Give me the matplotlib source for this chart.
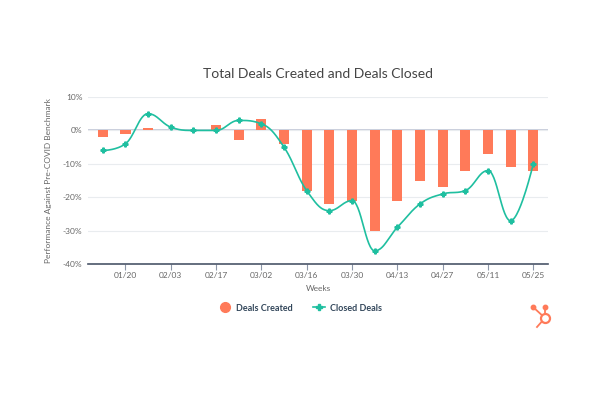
import numpy as np
import matplotlib
matplotlib.use("Agg")
import matplotlib.pyplot as plt
from matplotlib.lines import Line2D

weeks = ["01/13", "01/20", "01/27", "02/03", "02/10", "02/17", "02/24", "03/02",
         "03/09", "03/16", "03/23", "03/30", "04/06", "04/13", "04/20", "04/27",
         "05/04", "05/11", "05/18", "05/25"]
deals_created = [-2, -1, 0.8, 0, 0, 1.5, -3, 3.5, -4, -18, -22, -21, -30, -21,
                 -15, -17, -12, -7, -11, -12]
closed_deals = [-6, -4, 5, 1, 0, 0, 3, 2, -5, -18, -24, -21, -36, -29, -22,
                -19, -18, -12, -27, -10]

ORANGE = "#ff7a59"
TEAL = "#1fbfa0"
GREY = "#666666"


def spline_path(xs, ys, smoothing=1.5, steps=30):
    # highcharts-like bezier spline between points
    n = len(xs)
    left = [None] * n
    right = [None] * n
    for i in range(n):
        px, py = xs[i], ys[i]
        if i == 0 or i == n - 1:
            left[i] = (px, py)
            right[i] = (px, py)
            continue
        lx, ly = xs[i - 1], ys[i - 1]
        nx, ny = xs[i + 1], ys[i + 1]
        d = smoothing + 1
        lcx = (smoothing * px + lx) / d
        lcy = (smoothing * py + ly) / d
        rcx = (smoothing * px + nx) / d
        rcy = (smoothing * py + ny) / d
        if rcx != lcx:
            corr = (rcy - lcy) * (rcx - px) / (rcx - lcx) + py - rcy
            lcy += corr
            rcy += corr
        if lcy > ly and lcy > py:
            lcy = max(ly, py)
            rcy = 2 * py - lcy
        elif lcy < ly and lcy < py:
            lcy = min(ly, py)
            rcy = 2 * py - lcy
        if rcy > ny and rcy > py:
            rcy = max(ny, py)
            lcy = 2 * py - rcy
        elif rcy < ny and rcy < py:
            rcy = min(ny, py)
            lcy = 2 * py - rcy
        left[i] = (lcx, lcy)
        right[i] = (rcx, rcy)
    out_x, out_y = [xs[0]], [ys[0]]
    t = np.linspace(0, 1, steps)[1:]
    for i in range(1, n):
        p0 = np.array([xs[i - 1], ys[i - 1]])
        p1 = np.array(right[i - 1])
        p2 = np.array(left[i])
        p3 = np.array([xs[i], ys[i]])
        for tt in t:
            b = ((1 - tt) ** 3) * p0 + 3 * ((1 - tt) ** 2) * tt * p1 \
                + 3 * (1 - tt) * tt ** 2 * p2 + tt ** 3 * p3
            out_x.append(b[0])
            out_y.append(b[1])
    return out_x, out_y


plt.rcParams["font.family"] = ["Lato", "DejaVu Sans"]

fig = plt.figure(figsize=(5.95, 3.96), dpi=100)
ax = fig.add_axes([0.148, 0.333, 0.773, 0.422])

x = np.arange(len(weeks))
ax.bar(x, deals_created, width=0.45, color=ORANGE, zorder=2)

sx, sy = spline_path(list(x), closed_deals)
ax.plot(sx, sy, color=TEAL, lw=1.2, zorder=3)
ax.plot(x, closed_deals, ls="none", marker="P", ms=3.5, color=TEAL, zorder=4)

ax.set_xlim(-0.65, len(weeks) - 0.35)
ax.set_ylim(-40, 10)
ax.set_yticks([10, 0, -10, -20, -30, -40])
ax.set_yticklabels([f"{v}%" for v in [10, 0, -10, -20, -30, -40]])
ax.set_xticks(x[1::2])
ax.set_xticklabels(weeks[1::2])

ax.grid(axis="y", color="#e9ecef", lw=0.8, zorder=0)
ax.axhline(0, color="#c0c6d6", lw=1.2, zorder=1)
for s in ["top", "right", "left"]:
    ax.spines[s].set_visible(False)
ax.spines["bottom"].set_color("#4a5568")
ax.spines["bottom"].set_linewidth(1.2)
ax.tick_params(axis="y", length=0, labelsize=6, colors=GREY, pad=4)
ax.tick_params(axis="x", length=4, width=0.8, color="#8c96a8", labelsize=6,
               labelcolor=GREY, pad=2)

ax.set_xlabel("Weeks", fontsize=6, color=GREY, labelpad=4)
ax.set_ylabel("Performance Against Pre-COVID Benchmark", fontsize=6,
              color=GREY, labelpad=8)
ax.set_title("Total Deals Created and Deals Closed", fontsize=10,
             color="#444444", pad=14)

handles = [
    Line2D([], [], ls="none", marker="o", ms=7, color=ORANGE),
    Line2D([], [], color=TEAL, lw=1.2, marker="P", ms=4),
]
fig.legend(handles, ["Deals Created", "Closed Deals"], loc="center",
           bbox_to_anchor=(0.505, 0.222), ncol=2, frameon=False,
           prop={"size": 6.5, "weight": "bold"}, labelcolor="#33475b",
           handlelength=1.4, columnspacing=2.2, handletextpad=0.5)

# small logo in the lower right corner
def px(X, Y):
    return X / 595, 1 - Y / 396


hub = px(545, 318)
for end in [(545, 307), (533, 307), (537, 327)]:
    e = px(*end)
    fig.add_artist(Line2D([hub[0], e[0]], [hub[1], e[1]],
                          transform=fig.transFigure, color=ORANGE, lw=1.3))
for end in [(545, 307), (533, 307)]:
    e = px(*end)
    fig.add_artist(Line2D([e[0]], [e[1]], transform=fig.transFigure,
                          marker="o", ms=3.2, color=ORANGE, ls="none"))
fig.add_artist(Line2D([hub[0]], [hub[1]], transform=fig.transFigure,
                      marker="o", ms=6.5, mfc="white", mec=ORANGE, mew=1.6,
                      ls="none"))

fig.savefig("out.png", dpi=100)
